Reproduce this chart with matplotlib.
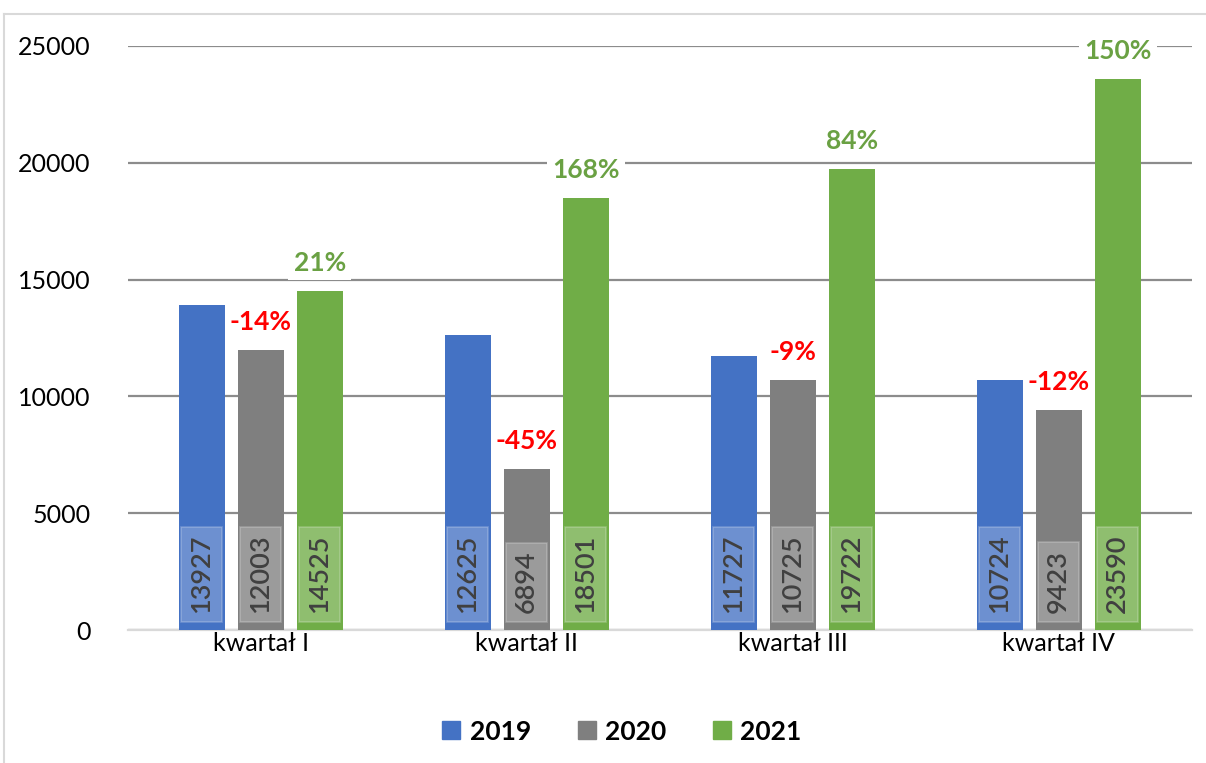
import matplotlib.pyplot as plt
import numpy as np
from matplotlib.lines import Line2D

plt.rcParams['font.family'] = ['Lato', 'DejaVu Sans']

kwartaly = ['kwartał I', 'kwartał II', 'kwartał III', 'kwartał IV']
lata = ['2019', '2020', '2021']
v2019 = [13927, 12625, 11727, 10724]
v2020 = [12003, 6894, 10725, 9423]
v2021 = [14525, 18501, 19722, 23590]
zm2020 = ['-14%', '-45%', '-9%', '-12%']
zm2021 = ['21%', '168%', '84%', '150%']

kolory = ['#4472C4', '#7F7F7F', '#70AD47']
kolory_proc = ['#FF0000', '#6AA143']

fig = plt.figure(figsize=(12.06, 7.63), dpi=100)
ax = fig.add_axes([0.106, 0.174, 0.882, 0.766])

x = np.arange(len(kwartaly))
szer = 0.173
odst = 0.222

serie = [v2019, v2020, v2021]
for i, (wart, kol) in enumerate(zip(serie, kolory)):
    pos = x + (i - 1) * odst
    ax.bar(pos, wart, width=szer, color=kol, zorder=2)
    for px, v in zip(pos, wart):
        ax.text(px, 720, str(v), rotation=90, ha='center', va='bottom',
                fontsize=19.5, fontweight='semibold', color='#404040', zorder=3,
                bbox=dict(boxstyle='square,pad=0.3', facecolor='white',
                          alpha=0.22, edgecolor='white', linewidth=1.2))

# etykiety zmian procentowych (biale tlo zakrywa linie siatki, slupki na wierzchu)
for i, (wart, txt) in enumerate([(v2020, zm2020), (v2021, zm2021)]):
    pos = x + i * odst
    for px, v, t in zip(pos, wart, txt):
        ax.annotate(t, (px, v), xytext=(0, 28), textcoords='offset pixels',
                    ha='center', va='center', fontsize=19, fontweight='bold',
                    color=kolory_proc[i], zorder=1.5,
                    bbox=dict(boxstyle='square,pad=0.2', facecolor='white',
                              edgecolor='none'))

ax.set_ylim(0, 25000)
ax.set_xlim(-0.5, 3.5)
ax.set_yticks(np.arange(0, 25001, 5000))
ax.set_xticks(x)
ax.set_xticklabels(kwartaly)
ax.tick_params(axis='both', length=0, labelsize=18, colors='black')
ax.tick_params(axis='y', pad=27)
ax.tick_params(axis='x', pad=1)
ax.grid(axis='y', color='#8C8C8C', linewidth=1.6, zorder=0)
ax.set_axisbelow(True)
for s in ['top', 'right', 'left']:
    ax.spines[s].set_visible(False)
ax.spines['bottom'].set_color('#D9D9D9')
ax.spines['bottom'].set_linewidth(1.6)
ax.spines['bottom'].set_zorder(1)

uchwyty = [Line2D([], [], marker='s', linestyle='none', markersize=12.5,
                  markerfacecolor=k, markeredgecolor=k) for k in kolory]
fig.legend(uchwyty, lata, loc='center', bbox_to_anchor=(0.515, 0.041),
           ncol=3, frameon=False, prop={'size': 19, 'weight': 'bold'},
           handletextpad=0.3, columnspacing=1.7, handlelength=0.8)

# ramka wykresu
fig.add_artist(Line2D([4 / 1206, 1], [1 - 14 / 763, 1 - 14 / 763],
                      color='#D9D9D9', linewidth=1.5, transform=fig.transFigure))
fig.add_artist(Line2D([4 / 1206, 4 / 1206], [0, 1 - 14 / 763],
                      color='#D9D9D9', linewidth=1.5, transform=fig.transFigure))

fig.savefig('out.png', dpi=100)
